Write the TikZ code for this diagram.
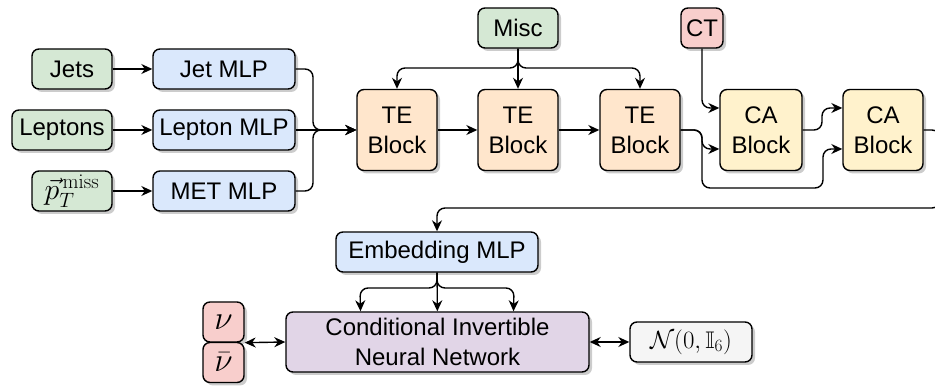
\documentclass[tikz,border=0pt]{standalone}
\usepackage{graphicx}
\usepackage{amssymb}
\usepackage[no-math]{fontspec}
\setmainfont{Liberation Sans}
\usetikzlibrary{arrows.meta,shadows}
\definecolor{ingreen}{HTML}{D5E8D4}
\definecolor{mlpblue}{HTML}{DAE8FC}
\definecolor{teorange}{HTML}{FFE6CC}
\definecolor{cayellow}{HTML}{FFF2CC}
\definecolor{outred}{HTML}{F8CECC}
\definecolor{flowpurple}{HTML}{E1D5E7}
\definecolor{latentgray}{HTML}{F5F5F5}
\tikzset{
	blk/.style={draw, line width=1.4pt, rounded corners=7pt, align=center, inner sep=0pt,
		font=\fontsize{24}{30}\selectfont,
		drop shadow={shadow xshift=3pt, shadow yshift=-3pt, fill=black!40}},
	link/.style={line width=1.4pt, rounded corners=8pt, -{Stealth[length=11pt,width=10pt]}},
	both/.style={line width=1.4pt, {Stealth[length=11pt,width=10pt]}-{Stealth[length=11pt,width=10pt]}},
}

\begin{document}
\begin{tikzpicture}[x=1pt,y=-1pt]
			%%%%% START %%%%%
			\useasboundingbox (0,0) rectangle (935,387);
			
			% inputs and encoders
			\node[blk, fill=ingreen, minimum width=80pt, minimum height=40pt] (jets) at (72,69) {Jets};
			\node[blk, fill=ingreen, minimum width=100pt, minimum height=40pt] (leptons) at (62,130) {Leptons};
			\node[blk, fill=ingreen, minimum width=80pt, minimum height=40pt] (ptmiss) at (72,191) {\scalebox{1.2}{$\vec{p}_T^{\,\mathrm{miss}}$}};
			\node[blk, fill=mlpblue, minimum width=142pt, minimum height=40pt] (jetmlp) at (224,69) {Jet MLP};
			\node[blk, fill=mlpblue, minimum width=142pt, minimum height=40pt] (leptonmlp) at (224,130) {Lepton MLP};
			\node[blk, fill=mlpblue, minimum width=142pt, minimum height=40pt] (metmlp) at (224,191) {MET MLP};
			
			% transformer blocks
			\node[blk, fill=ingreen, minimum width=80pt, minimum height=40pt] (misc) at (518,28) {Misc};
			\node[blk, fill=teorange, minimum width=80pt, minimum height=81pt] (te1) at (397,130) {TE\\Block};
			\node[blk, fill=teorange, minimum width=80pt, minimum height=81pt] (te2) at (518,130) {TE\\Block};
			\node[blk, fill=teorange, minimum width=80pt, minimum height=81pt] (te3) at (640,130) {TE\\Block};
			
			\node[blk, fill=outred, minimum width=42pt, minimum height=40pt] (ct) at (702,28) {CT};
			\node[blk, fill=cayellow, minimum width=82pt, minimum height=81pt] (ca1) at (761,130) {CA\\Block};
			\node[blk, fill=cayellow, minimum width=80pt, minimum height=81pt] (ca2) at (883,130) {CA\\Block};
			
			% flow part
			\node[blk, fill=mlpblue, minimum width=202pt, minimum height=40pt] (embed) at (437,252) {Embedding MLP};
			\node[blk, fill=flowpurple, minimum width=303pt, minimum height=60pt] (cinn) at (437.5,342) {Conditional Invertible\\Neural Network};
			\node[blk, fill=outred, minimum width=41pt, minimum height=40pt] (nu) at (223.5,322) {\scalebox{1.35}{$\nu$}};
			\node[blk, fill=outred, minimum width=41pt, minimum height=40pt] (nubar) at (223.5,362.5) {\scalebox{1.35}{$\bar{\nu}$}};
			\node[blk, fill=latentgray, minimum width=122pt, minimum height=40pt] (latent) at (691,342) {$\mathcal{N}(0,\mathbb{I}_6)$};
			
			% connectors
			\draw[link] (jets) -- (jetmlp);
			\draw[link] (leptons) -- (leptonmlp);
			\draw[link] (ptmiss) -- (metmlp);
			\draw[link] (jetmlp.east) -- (313,69) -- (313,130) -- (te1.west);
			\draw[link] (metmlp.east) -- (313,191) -- (313,130) -- (te1.west);
			\draw[link] (leptonmlp) -- (te1);
			\draw[link] (te1) -- (te2);
			\draw[link] (te2) -- (te3);
			
			\draw[link] (misc.south) -- (518,68) -- (397,68) -- (te1.north);
			\draw[link] (misc.south) -- (518,68) -- (640,68) -- (te3.north);
			\draw[link] (misc) -- (te2);
			
			\draw[link] (ct.south) -- (702,108) -- ([yshift=22pt]ca1.west);
			\draw[link] (te3.east) -- (702,130) -- (702,149) -- ([yshift=-19pt]ca1.west);
			\draw[link] (te3.east) -- (702,130) -- (702,188) -- (823,188) -- (823,149) -- ([yshift=-19pt]ca2.west);
			\draw[link] (ca1.east) -- (822,130) -- (822,108) -- ([yshift=22pt]ca2.west);
			\draw[link] (ca2.east) -- (940,130) -- (940,208) -- (437,208) -- (embed.north);
			
			\draw[link] (embed.south) -- (437,288) -- (360,288) -- ([xshift=-77pt]cinn.north);
			\draw[link] (embed.south) -- (437,288) -- (514,288) -- ([xshift=76pt]cinn.north);
			\draw[link] (embed) -- (cinn);
			
			\draw[both] (nu.south east) -- (cinn.west);
			\draw[both] (cinn) -- (latent);
			%%%%% END %%%%%
\end{tikzpicture}
\end{document}
